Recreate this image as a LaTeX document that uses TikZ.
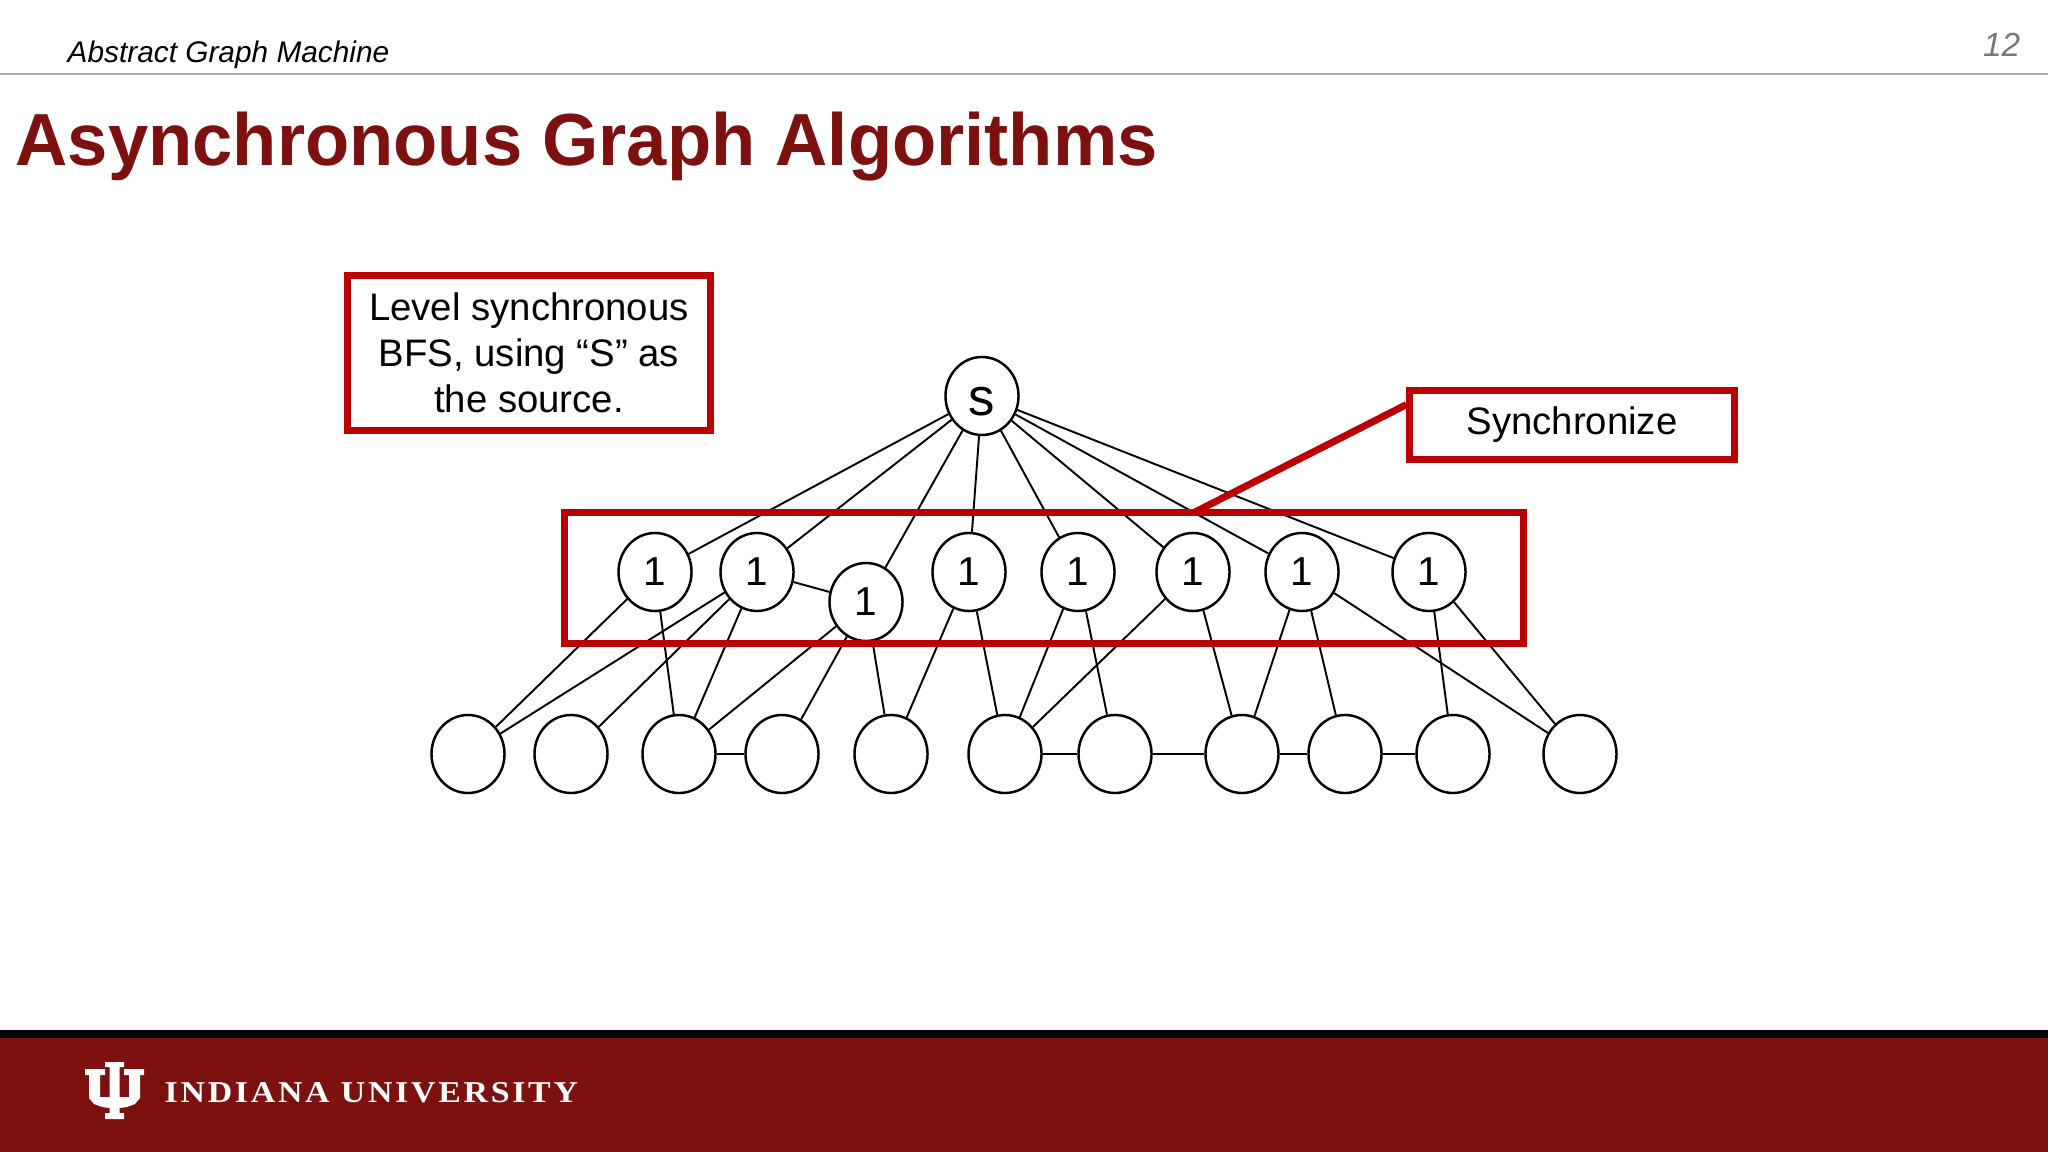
\documentclass[tikz,border=0pt]{standalone}
\usepackage{fontspec}
\setmainfont{Liberation Sans}
\newfontfamily\logofont[LetterSpace=9,FakeStretch=1.12]{Liberation Serif}
\newfontfamily\titlefont[FakeStretch=0.98]{Liberation Sans}
\usetikzlibrary{calc}
\usetikzlibrary{shapes.geometric}
\definecolor{iucrimson}{RGB}{125,17,15}
\definecolor{boxred}{RGB}{187,0,0}
\definecolor{rulegray}{RGB}{170,170,170}
\definecolor{pagegray}{RGB}{120,120,120}
\tikzset{
	vertex/.style={draw, fill=white, ellipse, inner sep=0pt, line width=0.7pt,
		minimum width=0.73cm, minimum height=0.78cm, font=\fontsize{11.5}{11.5}\selectfont},
	edge/.style={line width=0.55pt, black},
	redbox/.style={draw=boxred, line width=2pt, align=center, inner sep=0pt,
		font=\fontsize{10.9}{13}\selectfont}
}

\begin{document}
\begin{tikzpicture}[x=0.01cm, y=-0.01cm]

	\useasboundingbox (0,0) rectangle (2048,1152);

	% header
	\node [anchor=base west, inner sep=0pt, font=\fontsize{8.48}{9}\selectfont\itshape] (header) at (67,63) {Abstract Graph Machine};
	\node [anchor=base east, inner sep=0pt, text=pagegray, font=\fontsize{9.5}{10}\selectfont\itshape] (pagenum) at (2021,57) {12};
	\draw [rulegray, line width=0.4pt] (0,74) -- (2048,74);
	\node [anchor=base west, inner sep=0pt, text=iucrimson, font=\fontsize{21}{21}\selectfont\titlefont\bfseries] (title) at (15,166) {Asynchronous Graph Algorithms};

	% footer
	\fill [iucrimson] (0,1030) rectangle (2048,1152);
	\fill [black] (0,1030) rectangle (2048,1038);
	\fill [white] (105,1062) -- (124,1062) -- (124,1067) -- (119.5,1067) -- (119.5,1097) -- (129,1097) -- (129,1075)
		-- (124,1075) -- (124,1069) -- (144,1069) -- (144,1075) -- (140,1075) -- (140,1098) -- (135,1104) -- (127,1107)
		-- (119.5,1108) -- (119.5,1113) -- (124,1113) -- (124,1119) -- (105,1119) -- (105,1113) -- (109.5,1113)
		-- (109.5,1108) -- (102,1107) -- (94,1104) -- (89,1098) -- (89,1075) -- (85,1075) -- (85,1069) -- (105,1069)
		-- (105,1075) -- (100,1075) -- (100,1097) -- (109.5,1097) -- (109.5,1067) -- (105,1067) -- cycle;
	\node [anchor=base west, inner sep=0pt, text=white, font=\fontsize{8.6}{9}\selectfont\logofont\bfseries] (logotext) at (164,1102) {INDIANA UNIVERSITY};

	% root and level one
	\node [vertex] (s) at (982,396) {\raisebox{-0.19cm}[0.1cm][0.1cm]{\fontsize{15}{15}\selectfont s}};
	\foreach \name/\xx/\yy in {a/655/572, b/757/572, c/866/602, d/969/572, e/1078/572, f/1193/572, g/1302/572, h/1429/572}
		\node [vertex] (\name) at (\xx,\yy) {1};

	% bottom row
	\foreach \name/\xx in {n0/468, n1/571, n2/679, n3/782, n4/891, n5/1005, n6/1115, n7/1242, n8/1345, n9/1453, n10/1580}
		\node [vertex] (\name) at (\xx,754) {};

	\foreach \name in {a,b,c,d,e,f,g,h}
		\draw [edge] (s) -- (\name);
	\foreach \from/\to in {a/n0, a/n2, b/n0, b/n1, b/n2, b/c, c/n2, c/n3, c/n4, d/n4, d/n5, e/n5, e/n6, f/n5, f/n7, g/n7, g/n8, g/n10, h/n9, h/n10}
		\draw [edge] (\from) -- (\to);
	\foreach \from/\to in {n2/n3, n5/n6, n6/n7, n7/n8, n8/n9}
		\draw [edge] (\from) -- (\to);

	% red boxes
	\node [redbox, minimum width=3.63cm, minimum height=1.55cm] (levelbox) at (529,353) {Level synchronous\\BFS, using “S” as\\the source.};
	\node [redbox, minimum width=3.24cm, minimum height=0.68cm] (syncbox) at (1572,425) {Synchronize};
	\node [redbox, minimum width=9.58cm, minimum height=1.30cm] (levelone) at (1044,578) {};
	\coordinate (synctip) at (1195,512);
	\draw [boxred, line width=2pt] (syncbox.173) -- (synctip);

\end{tikzpicture}
\end{document}
